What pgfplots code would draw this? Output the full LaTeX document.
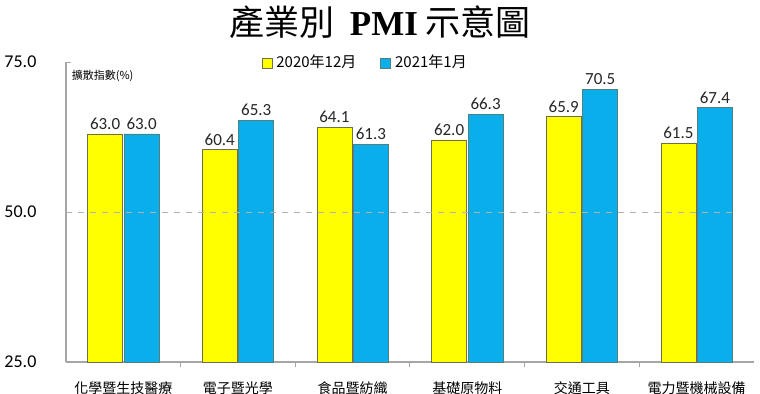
\documentclass[border=0pt]{standalone}
\usepackage{pgfplots}
\pgfplotsset{compat=1.18}
\usepackage{fontspec}
\setmainfont{Carlito}
\newfontfamily\cjk{Noto Sans CJK TC}
\newfontfamily\tnr{Liberation Serif}
\definecolor{yel}{HTML}{FFFF00}
\definecolor{blu}{HTML}{0AAEEA}
\definecolor{edge}{HTML}{6E6E50}
\begin{document}
\begin{tikzpicture}
\useasboundingbox (-33pt,-16pt) rectangle (347pt,181pt);
\begin{axis}[
  scale only axis, width=344pt, height=150pt,
  xmin=-0.5, xmax=5.5, ymin=25, ymax=75,
  ybar=0.75pt, bar width=17.5pt,
  axis x line*=bottom, axis y line*=left,
  axis line style={draw=gray!70, line width=0.6pt},
  ytick={25,50,75},
  /pgf/number format/fixed, /pgf/number format/fixed zerofill, /pgf/number format/precision=1,
  /pgf/number format/assume math mode=true,
  yticklabel style={font=\fontsize{9}{10}\selectfont, xshift=-7pt},
  y tick style={draw=none},
  xtick={0,1,2,3,4,5},
  xticklabels={化學暨生技醫療,電子暨光學,食品暨紡織,基礎原物料,交通工具,電力暨機械設備},
  xticklabel style={font=\cjk\fontsize{7}{8}\selectfont, yshift=-2pt},
  major x tick style={draw=none},
  minor xtick={0.5,1.5,2.5,3.5,4.5},
  minor x tick style={draw=gray!70, line width=0.5pt},
  minor tick length=2.5pt,
  tick align=outside,
  nodes near coords,
  nodes near coords style={font=\fontsize{8.5}{9}\selectfont, text=black!85, inner sep=2pt},
  legend columns=2,
  legend style={at={(rel axis cs:0.275,0.997)}, anchor=west, draw=none, fill=none,
    font=\cjk\fontsize{7.5}{8}\selectfont, /tikz/every even column/.append style={column sep=10pt}},
  legend image code/.code={\draw[#1] (0pt,-2.5pt) rectangle (5pt,2.5pt);},
  clip=false,
]
\addplot[fill=yel, draw=edge, line width=0.4pt] coordinates {(0,63.0) (1,60.4) (2,64.1) (3,62.0) (4,65.9) (5,61.5)};
\addplot[fill=blu, draw=edge!70!blu, line width=0.4pt] coordinates {(0,63.0) (1,65.3) (2,61.3) (3,66.3) (4,70.5) (5,67.4)};
\legend{2020年12月, 2021年1月}
\coordinate (d1) at (axis cs:-0.5,50);
\coordinate (d2) at (axis cs:5.35,50);
\draw[gray!70, line width=0.5pt] (rel axis cs:0,1) -- (rel axis cs:0.008,1);
\node[anchor=west, font=\cjk\fontsize{5.5}{6}\selectfont, inner sep=0pt] at (rel axis cs:0.008,0.955) {擴散指數(\%)};
\end{axis}
\draw[gray!60, dashed, line width=0.4pt] (d1) -- (d2);
\node[font=\fontsize{17.5}{18}\selectfont] at (157pt,170pt) {\cjk 產業別\ \ {\tnr\bfseries PMI} 示意圖};
\end{tikzpicture}
\end{document}
